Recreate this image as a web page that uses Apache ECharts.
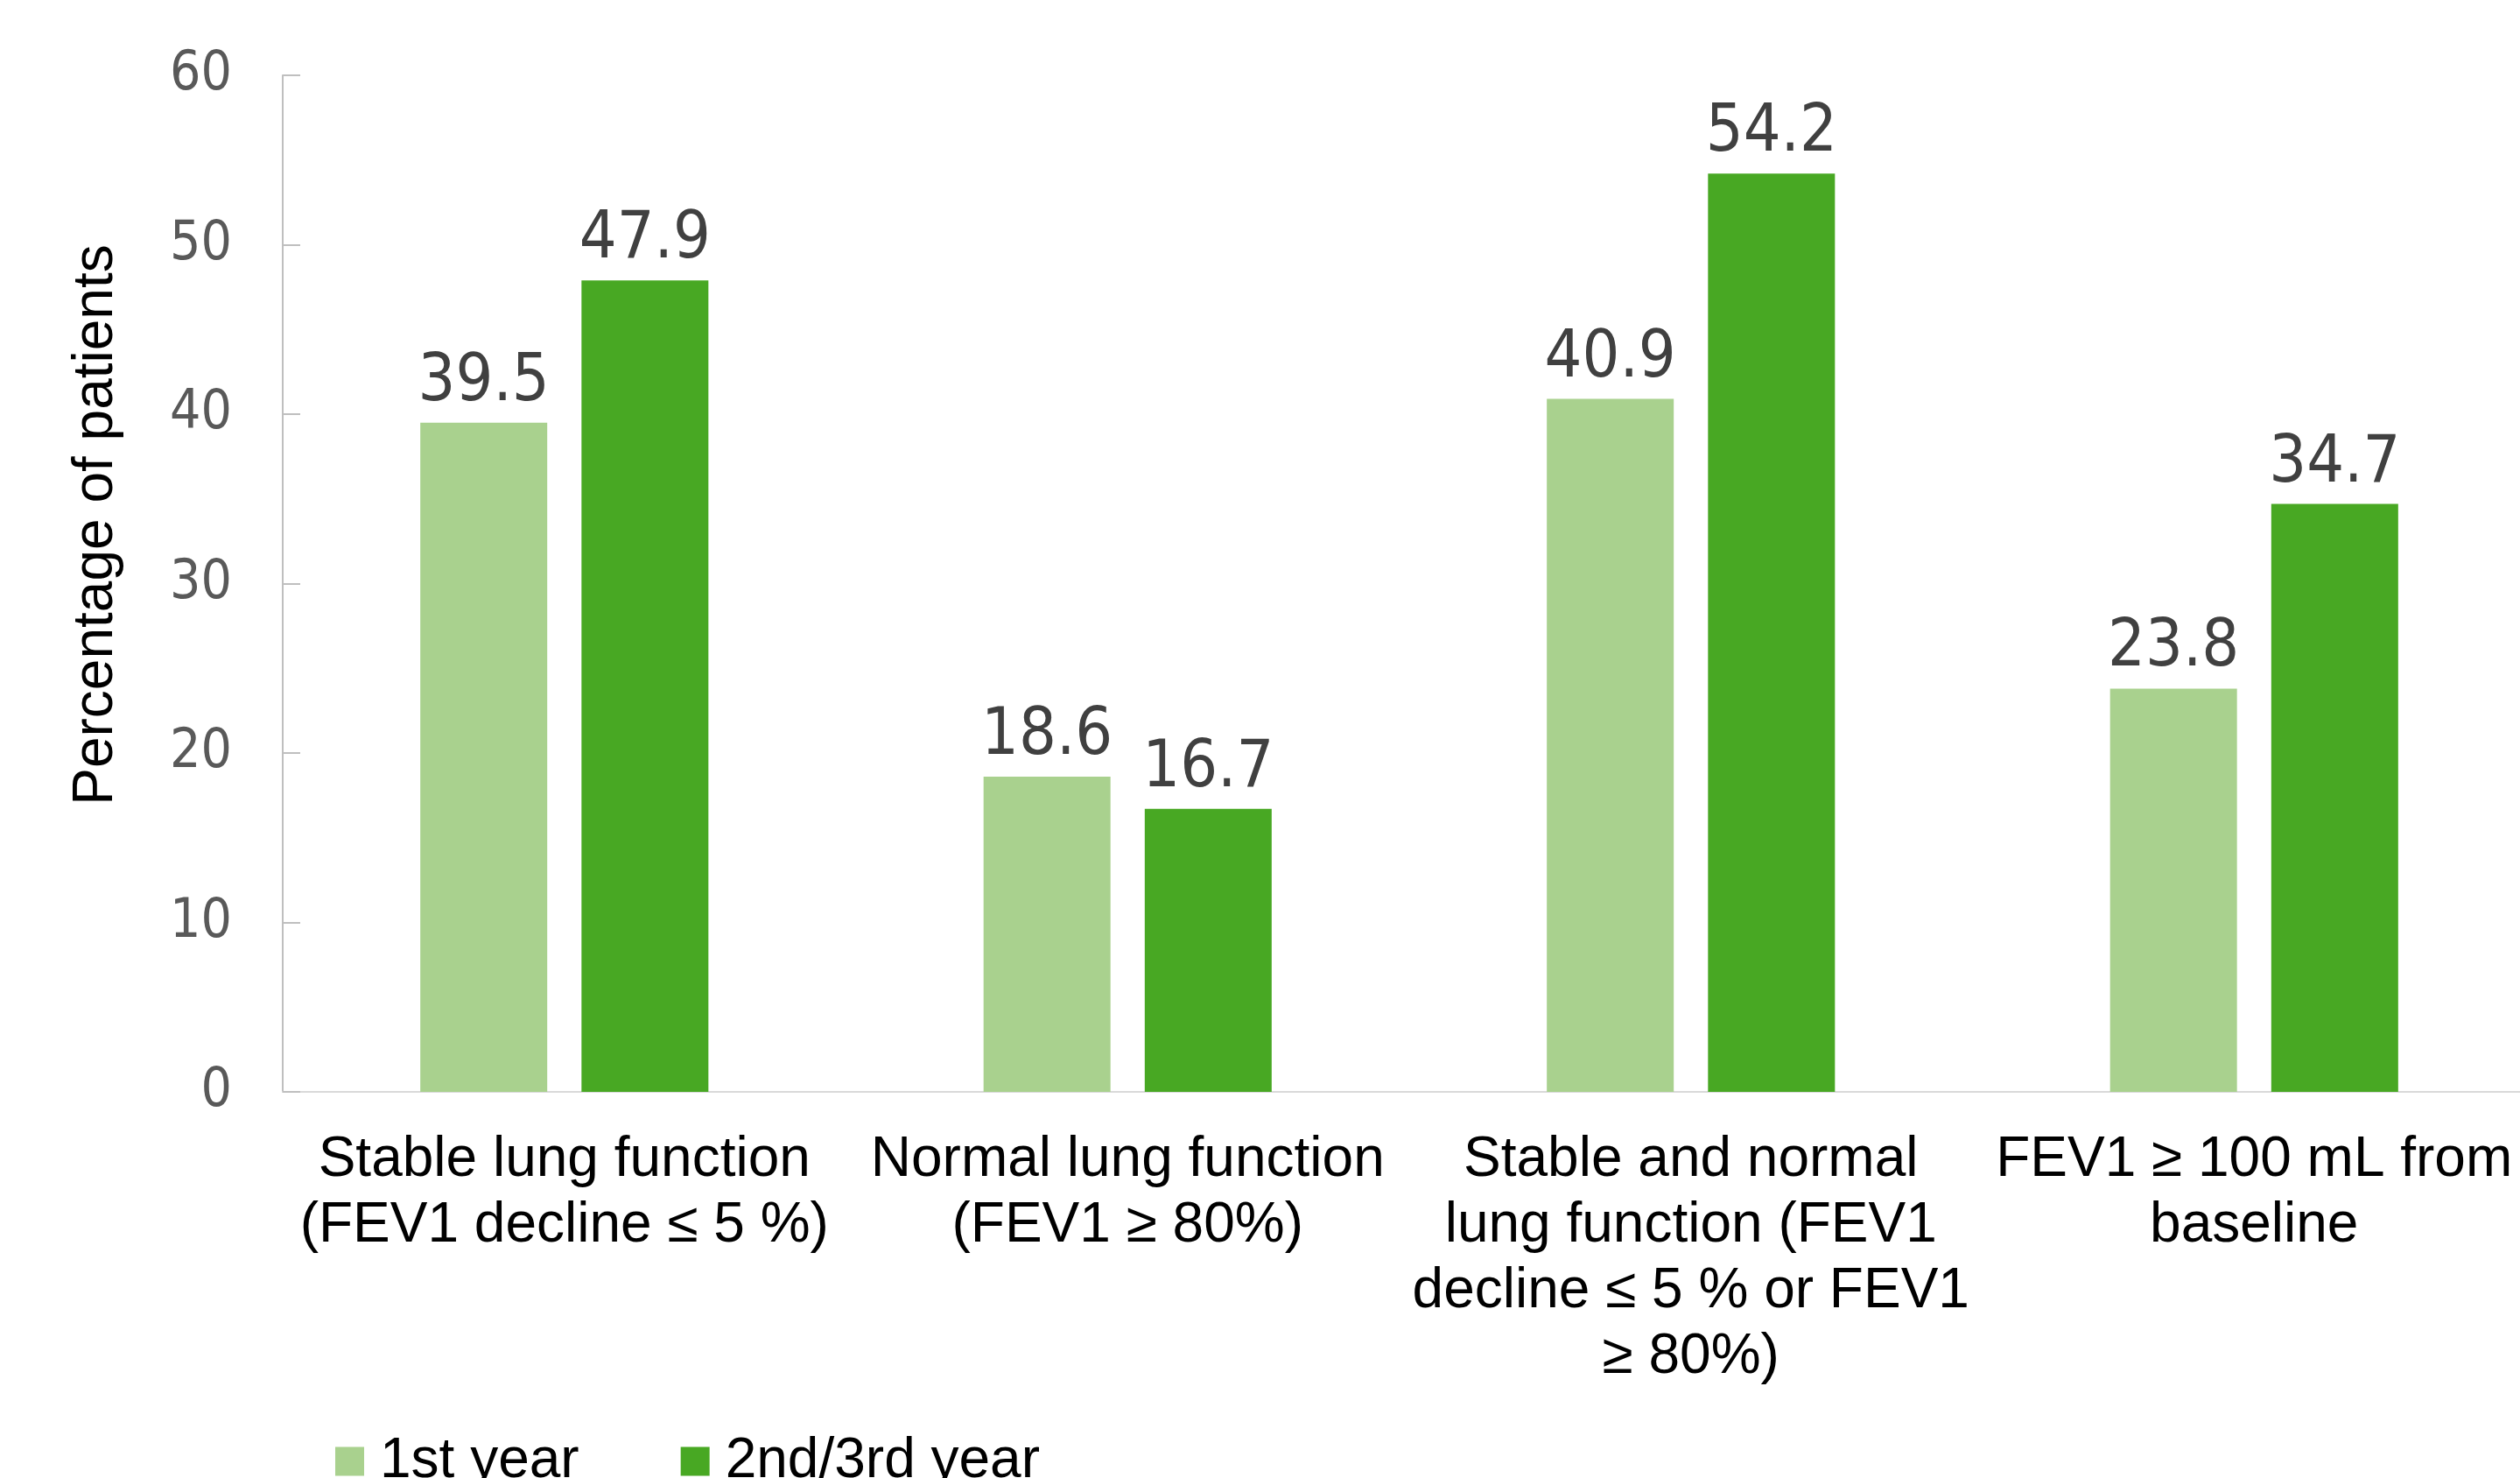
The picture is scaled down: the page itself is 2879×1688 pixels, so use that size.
<!DOCTYPE html>
<html>
<head>
<meta charset="utf-8">
<script src="https://cdn.jsdelivr.net/npm/echarts@6/dist/echarts.min.js"></script>
<style>
  html, body { margin: 0; padding: 0; background: #fff; }
  #chart { width: 2879px; height: 1688px; }
</style>
</head>
<body>
<div id="chart"></div>
<script>
// 数据
const categories = [
  'Stable lung function\n(FEV1 decline ≤ 5 %)',
  'Normal lung function\n(FEV1 ≥ 80%)',
  'Stable and normal\nlung function (FEV1\ndecline ≤ 5 % or FEV1\n≥ 80%)',
  'FEV1 ≥ 100 mL from\nbaseline'
];
const firstYear = [39.5, 18.6, 40.9, 23.8];
const laterYears = [47.9, 16.7, 54.2, 34.7];
const seriesNames = ['1st year', '2nd/3rd year'];

const numFont = "'DejaVu Sans Condensed', 'DejaVu Sans', sans-serif";
const textFont = "'Liberation Sans', Arial, sans-serif";

let myChart = echarts.init(document.getElementById('chart'));

// 柱子上的数值标签
const valueLabel = {
  show: true,
  position: 'top',
  distance: 8,
  color: '#404040',
  fontFamily: numFont,
  fontSize: 75
};

myChart.setOption({
  animation: false,
  legend: {
    data: seriesNames,
    left: 383,
    top: 1637,
    padding: 0,
    itemWidth: 33,
    itemHeight: 33,
    itemGap: 116,
    icon: 'rect',
    textStyle: {
      color: '#000',
      fontFamily: textFont,
      fontSize: 64,
      padding: [0, 0, 0, 13]
    }
  },
  grid: {
    left: 323,
    top: 86,
    width: 2574,
    height: 1161,
    outerBoundsMode: 'none' //不要让标签把网格挤小
  },
  xAxis: {
    type: 'category',
    data: categories,
    axisLine: {
      lineStyle: { color: '#d9d9d9', width: 2 }
    },
    axisTick: { show: false },
    axisLabel: {
      interval: 0,
      margin: 41,
      color: '#000',
      fontFamily: textFont,
      fontSize: 64,
      lineHeight: 75
    }
  },
  yAxis: {
    type: 'value',
    min: 0,
    max: 60,
    interval: 10,
    name: 'Percentage of patients',
    nameLocation: 'middle',
    nameGap: 181,
    nameTextStyle: {
      color: '#000',
      fontFamily: textFont,
      fontSize: 64,
      padding: [0, 0, 0, 134]
    },
    axisLine: {
      show: true,
      lineStyle: { color: '#bfbfbf', width: 2 }
    },
    axisTick: {
      show: true,
      inside: true,
      length: 20,
      lineStyle: { color: '#bfbfbf', width: 2 }
    },
    splitLine: { show: false },
    axisLabel: {
      margin: 58,
      color: '#595959',
      fontFamily: numFont,
      fontSize: 62
    }
  },
  series: [
    {
      name: seriesNames[0],
      type: 'bar',
      data: firstYear,
      barWidth: 145,
      barGap: '27%',
      itemStyle: { color: '#a9d18e' },
      label: valueLabel
    },
    {
      name: seriesNames[1],
      type: 'bar',
      data: laterYears,
      barWidth: 145,
      barGap: '27%',
      itemStyle: { color: '#48a823' },
      label: valueLabel
    }
  ]
});
</script>
</body>
</html>
